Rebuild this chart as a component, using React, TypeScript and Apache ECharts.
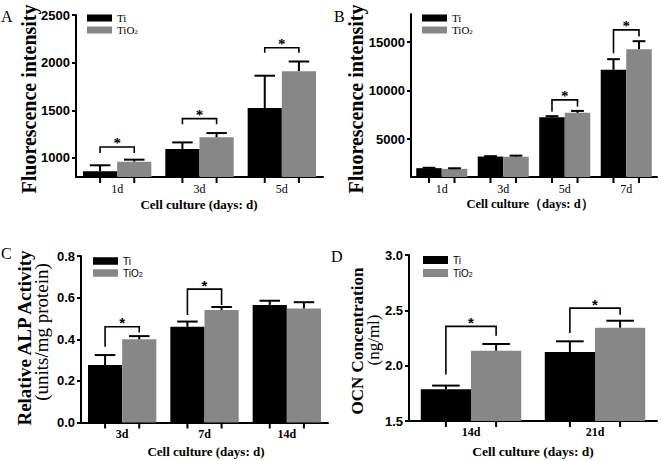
import React, { useEffect, useRef } from 'react';
import * as echarts from 'echarts';

// ---------- Data ----------
const seriesNames = ['Ti', 'TiO2'];

// Panel A: Fluorescence intensity
const catsA = ['1d', '3d', '5d'];
const tiA = [860, 1094, 1524];
const tiSdA = [63, 69, 339];
const tio2A = [961, 1217, 1911];
const tio2SdA = [21, 44, 101];
const yTicksA = [1000, 1500, 2000, 2500];
// [category index, bracket top, left leg end, right leg end]
const sigA = [
  [0, 1115, 1052, 1052],
  [1, 1413, 1353, 1353],
  [2, 2157, 2105, 2105],
];

// Panel B: Fluorescence intensity
const catsB = ['1d', '3d', '5d', '7d'];
const tiB = [2010, 3206, 7268, 12144];
const tiSdB = [40, 40, 100, 1100];
const tio2B = [1940, 3200, 7711, 14278];
const tio2SdB = [60, 100, 200, 820];
const yTicksB = [5000, 10000, 15000];
const sigB = [
  [2, 9052, 7845, 8361],
  [3, 16268, 13866, 15578],
];

// Panel C: Relative ALP activity
const catsC = ['3d', '7d', '14d'];
const tiC = [0.276, 0.46, 0.565];
const tiSdC = [0.048, 0.025, 0.02];
const tio2C = [0.4, 0.54, 0.548];
const tio2SdC = [0.015, 0.015, 0.03];
const yTicksC = [0, 0.2, 0.4, 0.6, 0.8];
const sigC = [
  [0, 0.46, 0.364, 0.433],
  [1, 0.641, 0.516, 0.565],
];

// Panel D: OCN concentration
const catsD = ['14d', '21d'];
const tiD = [1.786, 2.124];
const tiSdD = [0.034, 0.096];
const tio2D = [2.135, 2.343];
const tio2SdD = [0.061, 0.063];
const yTicksD = [1.5, 2.0, 2.5, 3.0];
const sigD = [
  [0, 2.355, 1.92, 2.27],
  [1, 2.52, 2.295, 2.46],
];

// ---------- Styling / layout ----------
const BLACK = '#000000';
const GRAY = '#878787';
const SERIF = '"Liberation Serif", "Times New Roman", serif';
const SANS = '"Liberation Sans", Arial, sans-serif';

const panels = [
  {
    cats: catsA, ti: tiA, tiSd: tiSdA, tio2: tio2A, tio2Sd: tio2SdA, ticks: yTicksA, sig: sigA,
    grid: { left: 76, top: 15, width: 247, height: 162 }, min: 800, max: 2500, digits: 0,
    gap: 0.17, cap: 0.6, catWeight: 'normal', catMargin: 6, starFont: SERIF,
    legend: { left: 87, top: 12.5, ih: 7, gap: 1, font: SERIF, size: 11, lh: 10 },
  },
  {
    cats: catsB, ti: tiB, tiSd: tiSdB, tio2: tio2B, tio2Sd: tio2SdB, ticks: yTicksB, sig: sigB,
    grid: { left: 411, top: 14, width: 246, height: 163 }, min: 1100, max: 17900, digits: 0,
    gap: 0.17, cap: 0.5, catWeight: 'normal', catMargin: 6, starFont: SERIF,
    legend: { left: 422, top: 12.5, ih: 7, gap: 1, font: SERIF, size: 11, lh: 10 },
  },
  {
    cats: catsC, ti: tiC, tiSd: tiSdC, tio2: tio2C, tio2Sd: tio2SdC, ticks: yTicksC, sig: sigC,
    grid: { left: 81, top: 256, width: 247, height: 166.5 }, min: 0, max: 0.8, digits: 1,
    gap: 0.17, cap: 0.6, catWeight: 'bold', catMargin: 5, starFont: SANS,
    legend: { left: 93, top: 256, ih: 7.5, gap: 2, font: SANS, size: 10, lh: 10 },
  },
  {
    cats: catsD, ti: tiD, tiSd: tiSdD, tio2: tio2D, tio2Sd: tio2SdD, ticks: yTicksD, sig: sigD,
    grid: { left: 409, top: 255, width: 248, height: 166 }, min: 1.5, max: 3.0, digits: 1,
    gap: 0.19, cap: 0.55, catWeight: 'bold', catMargin: 5, starFont: SANS,
    legend: { left: 423, top: 255, ih: 8, gap: 3, font: SANS, size: 10, lh: 10 },
  },
];

const lineStyle = { stroke: BLACK, lineWidth: 2 };

function errorRender(gap: number, capRatio: number) {
  return (params: any, api: any) => {
    const k = api.value(0);
    const band = api.size([1, 0])[0];
    const barW = (band * (1 - gap)) / 2;
    const cx = api.coord([k, api.value(1)])[0];
    const cs = params.coordSys;
    const bottom = cs.y + cs.height;
    const children: any[] = [];
    const pairs = [
      [1, 2, -1],
      [3, 4, 1],
    ];
    pairs.forEach(([m, u, s]) => {
      const x = cx + (s * barW) / 2;
      const y1 = api.coord([k, api.value(m)])[1];
      const y2 = api.coord([k, api.value(u)])[1];
      const hw = (barW * capRatio) / 2;
      children.push({ type: 'line', shape: { x1: x, y1: y1, x2: x, y2: y2 }, style: lineStyle });
      children.push({ type: 'line', shape: { x1: x - hw, y1: y2, x2: x + hw, y2: y2 }, style: lineStyle });
      children.push({ type: 'line', shape: { x1: x, y1: bottom, x2: x, y2: bottom + 6 }, style: lineStyle });
    });
    return { type: 'group', children };
  };
}

function sigRender(gap: number, starFont: string) {
  return (params: any, api: any) => {
    const k = api.value(0);
    const band = api.size([1, 0])[0];
    const barW = (band * (1 - gap)) / 2;
    const top = api.coord([k, api.value(1)]);
    const cx = top[0];
    const yTop = top[1];
    const yL = api.coord([k, api.value(2)])[1];
    const yR = api.coord([k, api.value(3)])[1];
    const xL = cx - barW / 2;
    const xR = cx + barW / 2;
    return {
      type: 'group',
      children: [
        {
          type: 'polyline',
          shape: { points: [[xL, yL], [xL, yTop], [xR, yTop], [xR, yR]] },
          style: { stroke: BLACK, lineWidth: 1.6, fill: 'none' },
        },
        {
          type: 'text',
          x: cx,
          y: yTop - 4,
          z2: 10,
          style: {
            text: '*',
            fill: 'rgb(0,0,0)',
            font: 'bold 15px ' + starFont,
            align: 'center',
            verticalAlign: 'middle',
          },
        },
      ],
    };
  };
}

function txt(x: number, y: number, text: string, font: string, rotate = false, align = 'center') {
  return {
    type: 'text',
    x,
    y,
    rotation: rotate ? Math.PI / 2 : 0,
    style: {
      text,
      fill: BLACK,
      font,
      align,
      verticalAlign: 'middle',
      textAlign: align,
      textVerticalAlign: 'middle',
    },
  };
}

function buildOption() {
  const grid: any[] = [];
  const xAxis: any[] = [];
  const yAxis: any[] = [];
  const series: any[] = [];
  const legend: any[] = [];

  panels.forEach((p, i) => {
    grid.push({ ...p.grid, containLabel: false, outerBoundsMode: 'none' });
    xAxis.push({
      type: 'category',
      gridIndex: i,
      data: p.cats,
      axisLine: { show: true, lineStyle: { color: BLACK, width: 2 } },
      axisTick: { show: false },
      splitLine: { show: false },
      axisLabel: {
        color: BLACK,
        fontFamily: SERIF,
        fontSize: 12,
        fontWeight: p.catWeight,
        margin: p.catMargin,
      },
    });
    yAxis.push({
      type: 'value',
      gridIndex: i,
      min: p.min,
      max: p.max,
      axisLine: { show: true, lineStyle: { color: BLACK, width: 2 } },
      axisTick: {
        show: true,
        length: 4,
        inside: false,
        lineStyle: { color: BLACK, width: 2 },
        customValues: p.ticks,
      },
      axisLabel: {
        color: BLACK,
        fontFamily: SANS,
        fontSize: 13,
        fontWeight: 'bold',
        margin: 6,
        customValues: p.ticks,
        formatter: (v: number) => v.toFixed(p.digits),
      },
      splitLine: { show: false },
    });
    series.push({
      type: 'bar',
      name: seriesNames[0],
      xAxisIndex: i,
      yAxisIndex: i,
      data: p.ti,
      itemStyle: { color: BLACK },
      barGap: '0%',
      barCategoryGap: Math.round(p.gap * 100) + '%',
    });
    series.push({
      type: 'bar',
      name: seriesNames[1],
      xAxisIndex: i,
      yAxisIndex: i,
      data: p.tio2,
      itemStyle: { color: GRAY },
      barGap: '0%',
      barCategoryGap: Math.round(p.gap * 100) + '%',
    });
    series.push({
      type: 'custom',
      xAxisIndex: i,
      yAxisIndex: i,
      clip: false,
      silent: true,
      z: 5,
      itemStyle: { color: BLACK },
      encode: { x: 0, y: 1 },
      data: p.cats.map((_, k) => [k, p.ti[k], p.ti[k] + p.tiSd[k], p.tio2[k], p.tio2[k] + p.tio2Sd[k]]),
      renderItem: errorRender(p.gap, p.cap),
    });
    series.push({
      type: 'custom',
      xAxisIndex: i,
      yAxisIndex: i,
      clip: false,
      silent: true,
      z: 5,
      itemStyle: { color: BLACK },
      encode: { x: 0, y: 1 },
      data: p.sig,
      renderItem: sigRender(p.gap, p.starFont),
    });
    legend.push({
      orient: 'vertical',
      left: p.legend.left,
      top: p.legend.top,
      padding: 0,
      itemWidth: 25,
      itemHeight: p.legend.ih,
      itemGap: p.legend.gap,
      icon: 'rect',
      selectedMode: false,
      data: seriesNames,
      formatter: (n: string) => (n === 'TiO2' ? 'TiO{s|2}' : n),
      textStyle: {
        color: BLACK,
        fontFamily: p.legend.font,
        fontSize: p.legend.size,
        lineHeight: p.legend.lh,
        rich: {
          s: {
            color: BLACK,
            fontFamily: p.legend.font,
            fontSize: 7,
            lineHeight: 1,
            verticalAlign: 'bottom',
          },
        },
      },
    });
  });

  const graphic = [
    // Panel letters
    txt(1, 16, 'A', '16px ' + SERIF, false, 'left'),
    txt(334, 16, 'B', '16px ' + SERIF, false, 'left'),
    txt(1, 253, 'C', '16px ' + SERIF, false, 'left'),
    txt(331, 256, 'D', '16px ' + SERIF, false, 'left'),
    // Y titles
    txt(29, 99, 'Fluorescence intensity', 'bold 20px ' + SERIF, true),
    txt(356, 99, 'Fluorescence intensity', 'bold 20px ' + SERIF, true),
    txt(24, 338, 'Relative ALP Activity', 'bold 19px ' + SERIF, true),
    txt(41, 332, '(units/mg protein)', '19px ' + SERIF, true),
    txt(357, 341, 'OCN Concentration', 'bold 17px ' + SERIF, true),
    txt(373, 340, '(ng/ml)', '17px ' + SERIF, true),
    // X titles
    txt(199, 204, 'Cell culture (days: d)', 'bold 13px ' + SERIF),
    txt(530, 204, 'Cell culture（days: d）', 'bold 12.5px ' + SERIF),
    txt(206, 451, 'Cell culture (days: d)', 'bold 13px ' + SERIF),
    txt(533, 451, 'Cell culture (days: d)', 'bold 13.5px ' + SERIF),
  ];

  return {
    animation: false,
    backgroundColor: '#ffffff',
    grid,
    xAxis,
    yAxis,
    series,
    legend,
    graphic,
  };
}

export default function App() {
  const ref = useRef<HTMLDivElement>(null);
  useEffect(() => {
    document.body.style.margin = '0';
    if (!ref.current) return;
    const chart = echarts.init(ref.current, undefined, { renderer: 'svg' });
    chart.setOption(buildOption() as any);
    return () => {
      chart.dispose();
    };
  }, []);
  return (
    <div
      ref={ref}
      style={{ position: 'fixed', left: 0, top: 0, width: 661, height: 461, background: '#fff' }}
    />
  );
}
